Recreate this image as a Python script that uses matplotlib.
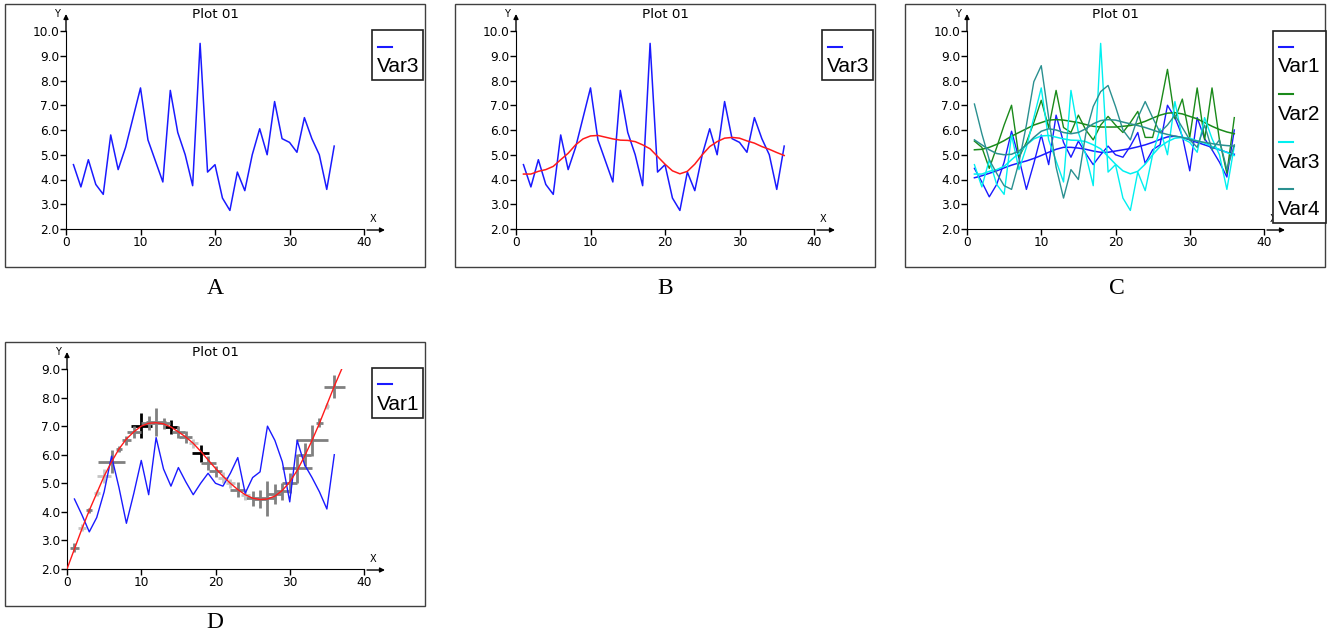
import matplotlib
matplotlib.use('Agg')
import matplotlib.pyplot as plt
from matplotlib.patches import Rectangle
from matplotlib.lines import Line2D

W, H = 1335, 639

# Data
x = list(range(1, 37))
var1 = [4.45, 3.9, 3.3, 3.8, 4.7, 5.95, 4.85, 3.6, 4.65, 5.8, 4.6, 6.6, 5.5, 4.9, 5.55, 5.05,
        4.6, 5.0, 5.35, 5.0, 4.9, 5.35, 5.9, 4.65, 5.2, 5.4, 7.0, 6.5, 5.75, 4.35, 6.5, 5.65,
        5.2, 4.7, 4.1, 6.0]
var2 = [5.55, 5.3, 4.45, 5.3, 6.2, 7.0, 4.9, 5.5, 6.3, 7.2, 6.1, 7.6, 6.1, 5.9, 6.6, 6.0,
        5.6, 6.2, 6.55, 6.2, 5.9, 6.3, 6.75, 5.7, 5.7, 6.9, 8.45, 6.45, 7.25, 5.7, 7.7, 5.6,
        7.7, 5.6, 4.25, 6.5]
var3 = [4.6, 3.7, 4.8, 3.8, 3.4, 5.8, 4.4, 5.3, 6.5, 7.7, 5.6, 4.75, 3.9, 7.6, 5.9, 5.0,
        3.75, 9.5, 4.3, 4.6, 3.25, 2.75, 4.3, 3.55, 5.0, 6.05, 5.0, 7.15, 5.65, 5.5, 5.1, 6.5,
        5.65, 5.0, 3.6, 5.35]
var4 = [7.05, 5.85, 4.8, 4.25, 3.75, 3.6, 4.7, 6.2, 7.95, 8.6, 6.5, 4.5, 3.25, 4.4, 4.0, 5.85,
        6.95, 7.55, 7.8, 6.95, 6.0, 5.6, 6.5, 7.15, 6.5, 5.9, 6.2, 6.6, 6.1, 5.6, 5.3, 6.2,
        5.2, 5.6, 4.4, 5.4]

smooth1 = [4.07, 4.15, 4.25, 4.35, 4.47, 4.58, 4.67, 4.75, 4.85, 4.97, 5.1, 5.22, 5.3, 5.3,
           5.27, 5.22, 5.15, 5.1, 5.1, 5.15, 5.2, 5.25, 5.32, 5.4, 5.5, 5.62, 5.72, 5.75, 5.7,
           5.6, 5.5, 5.4, 5.3, 5.2, 5.1, 5.02]
smooth2 = [5.2, 5.22, 5.3, 5.42, 5.57, 5.75, 5.9, 6.05, 6.2, 6.3, 6.4, 6.42, 6.4, 6.35, 6.3,
           6.22, 6.15, 6.12, 6.12, 6.12, 6.15, 6.18, 6.25, 6.35, 6.48, 6.6, 6.68, 6.7, 6.65,
           6.55, 6.45, 6.3, 6.15, 6.02, 5.92, 5.85]
smooth3 = [4.22, 4.22, 4.33, 4.4, 4.53, 4.8, 5.06, 5.4, 5.64, 5.76, 5.78, 5.71, 5.64, 5.59,
           5.58, 5.53, 5.4, 5.24, 4.93, 4.62, 4.35, 4.23, 4.33, 4.62, 5.0, 5.33, 5.53, 5.67,
           5.7, 5.67, 5.56, 5.47, 5.33, 5.22, 5.09, 4.97]
smooth4 = [5.6, 5.4, 5.2, 5.05, 5.0, 5.02, 5.15, 5.4, 5.7, 5.95, 6.05, 6.0, 5.9, 5.85, 5.9,
           6.05, 6.25, 6.38, 6.42, 6.4, 6.32, 6.25, 6.18, 6.1, 6.0, 5.9, 5.82, 5.75, 5.7, 5.62,
           5.55, 5.5, 5.45, 5.4, 5.37, 5.35]

# panel D: fitted curve and points with x/y error crosses
fit_x = list(range(0, 38))
fit_y = [2.0, 2.7, 3.4, 4.05, 4.65, 5.25, 5.75, 6.2, 6.55, 6.8, 7.0, 7.1, 7.12, 7.08, 6.97,
         6.8, 6.62, 6.4, 6.12, 5.82, 5.52, 5.25, 5.0, 4.78, 4.6, 4.48, 4.43, 4.45, 4.55, 4.75,
         5.05, 5.45, 5.95, 6.5, 7.1, 7.75, 8.4, 9.0]
cross_x = list(range(1, 37))
cross_y = [2.75, 3.45, 4.05, 4.65, 5.25, 5.75, 6.2, 6.5, 6.8, 7.02, 7.1, 7.15, 7.1, 6.97, 6.8,
           6.62, 6.4, 6.05, 5.72, 5.42, 5.2, 5.0, 4.78, 4.6, 4.47, 4.45, 4.47, 4.62, 4.72, 5.0,
           5.52, 6.0, 6.5, 7.12, 7.7, 8.38]
cross_xerr = [0.6, 0.5, 0.4, 0.4, 0.9, 1.8, 0.4, 0.6, 0.9, 1.4, 1.0, 1.3, 0.9, 0.9, 0.9, 0.9,
              0.6, 1.1, 1.0, 0.9, 0.7, 0.6, 1.0, 0.6, 1.1, 1.1, 1.2, 1.0, 1.0, 1.0, 2.0, 0.9,
              2.1, 0.5, 0.3, 1.4]
cross_yerr = [0.15, 0.12, 0.1, 0.1, 0.25, 0.4, 0.1, 0.15, 0.2, 0.45, 0.25, 0.5, 0.2, 0.25,
              0.2, 0.2, 0.15, 0.3, 0.25, 0.2, 0.2, 0.15, 0.25, 0.2, 0.25, 0.3, 0.6, 0.35, 0.3,
              0.35, 0.5, 0.4, 0.55, 0.15, 0.1, 0.4]
cross_shade = ['d', 'l', 'd', 'l', 'l', 'd', 'd', 'd', 'd', 'k', 'd', 'd', 'd', 'k', 'd', 'd',
               'l', 'k', 'd', 'd', 'l', 'l', 'd', 'l', 'd', 'd', 'd', 'd', 'd', 'd', 'd', 'd',
               'd', 'd', 'l', 'd']
shade_colors = {'k': '#000000', 'd': '#808080', 'l': '#c4c4c4'}

yticks_a = [2.0, 3.0, 4.0, 5.0, 6.0, 7.0, 8.0, 9.0, 10.0]
yticks_d = [2.0, 3.0, 4.0, 5.0, 6.0, 7.0, 8.0, 9.0]
xticks = [0, 10, 20, 30, 40]

BLUE = '#1a1aff'
GREEN = '#1a8a1a'
CYAN = '#00f0f0'
TEAL = '#2a9090'
RED = '#ff1a1a'

plt.rcParams['font.family'] = ['DejaVu Sans']
fig = plt.figure(figsize=(W / 100, H / 100), dpi=100)


def fx(px):
    return px / W


def fy(py):
    return 1 - py / H


def make_panel(box, area, ymax, yticks, label, label_pos):
    l, t, r, b = box
    fig.patches.append(Rectangle((fx(l), fy(b)), (r - l) / W, (b - t) / H,
                                 transform=fig.transFigure, fill=False,
                                 ec='#404040', lw=1.0))
    al, at, ar, ab = area
    ax = fig.add_axes([fx(al), fy(ab), (ar - al) / W, (ab - at) / H])
    ax.set_xlim(0, 40)
    ax.set_ylim(2, ymax)
    ax.set_xticks(xticks)
    ax.set_yticks(yticks)
    ax.set_yticklabels([f'{v:.1f}' for v in yticks])
    ax.spines['top'].set_visible(False)
    ax.spines['right'].set_visible(False)
    ax.tick_params(direction='out', length=4, width=1, labelsize=8.7, pad=1)
    ax.patch.set_alpha(0)
    # axis arrows
    ax.annotate('', xy=(fx(al), fy(at - 17)), xytext=(fx(al), fy(at)),
                xycoords='figure fraction',
                arrowprops=dict(arrowstyle='-|>', color='k', lw=1,
                                mutation_scale=7, shrinkA=0, shrinkB=0))
    ax.annotate('', xy=(fx(ar + 21), fy(ab + 1)), xytext=(fx(ar + 3), fy(ab + 1)),
                xycoords='figure fraction',
                arrowprops=dict(arrowstyle='-|>', color='k', lw=1,
                                mutation_scale=7, shrinkA=0, shrinkB=0))
    fig.text(fx(al - 9), fy(at - 17), 'Y', fontsize=7, ha='center', va='center')
    fig.text(fx(ar + 9), fy(ab - 10), 'X', fontsize=7, ha='center', va='center')
    fig.text(fx((al + ar) / 2), fy(at - 16), 'Plot 01', fontsize=9.7,
             ha='center', va='center')
    fig.text(fx(label_pos[0]), fy(label_pos[1]), label, fontsize=17,
             family='Liberation Serif', ha='center', va='center')
    return ax


def draw_legend(box, names, colors, line_ys, text_ys):
    l, t, r, b = box
    fig.patches.append(Rectangle((fx(l), fy(b)), (r - l) / W, (b - t) / H,
                                 transform=fig.transFigure, fc='white',
                                 ec='#202020', lw=1.2, zorder=5))
    for name, col, ly, ty in zip(names, colors, line_ys, text_ys):
        fig.lines.append(Line2D([fx(l + 6), fx(l + 20)], [fy(ly), fy(ly)],
                                transform=fig.transFigure, color=col, lw=1.5,
                                zorder=6))
        fig.text(fx(l + 5), fy(ty), name, fontsize=15, family='Liberation Sans',
                 ha='left', va='center', zorder=6)


# A
ax_a = make_panel((5, 4, 425, 267), (66, 31, 364, 229), 10, yticks_a, 'A', (215, 288))
ax_a.plot(x, var3, color=BLUE, lw=1.1)
draw_legend((372, 30, 423, 80), ['Var3'], [BLUE], [47], [67])

# B
ax_b = make_panel((455, 4, 875, 267), (516, 31, 814, 229), 10, yticks_a, 'B', (665, 288))
ax_b.plot(x, var3, color=BLUE, lw=1.1)
ax_b.plot(x, smooth3, color=RED, lw=1.1)
draw_legend((822, 30, 873, 80), ['Var3'], [BLUE], [47], [67])

# C
ax_c = make_panel((905, 4, 1325, 267), (967, 31, 1264, 229), 10, yticks_a, 'C', (1117, 288))
for vals, sm, col in [(var1, smooth1, BLUE), (var2, smooth2, GREEN),
                      (var3, smooth3, CYAN), (var4, smooth4, TEAL)]:
    ax_c.plot(x, vals, color=col, lw=1.0)
    ax_c.plot(x, sm, color=col, lw=1.1)
draw_legend((1273, 31, 1326, 223), ['Var1', 'Var2', 'Var3', 'Var4'],
            [BLUE, GREEN, CYAN, TEAL], [47, 94, 142, 189], [67, 114, 162, 209])

# D
ax_d = make_panel((5, 342, 425, 606), (67, 369, 364, 569), 9, yticks_d, 'D', (215, 623))
for shade, col in shade_colors.items():
    idx = [i for i, s in enumerate(cross_shade) if s == shade]
    ax_d.errorbar([cross_x[i] for i in idx], [cross_y[i] for i in idx],
                  xerr=[cross_xerr[i] for i in idx], yerr=[cross_yerr[i] for i in idx],
                  fmt='none', ecolor=col, elinewidth=2.0, capsize=0, zorder=1)
ax_d.plot(x, var1, color=BLUE, lw=1.0, zorder=2)
ax_d.plot(fit_x, fit_y, color=RED, lw=1.0, zorder=3)
draw_legend((372, 368, 423, 418), ['Var1'], [BLUE], [384], [405])

fig.savefig('out.png', dpi=100)
